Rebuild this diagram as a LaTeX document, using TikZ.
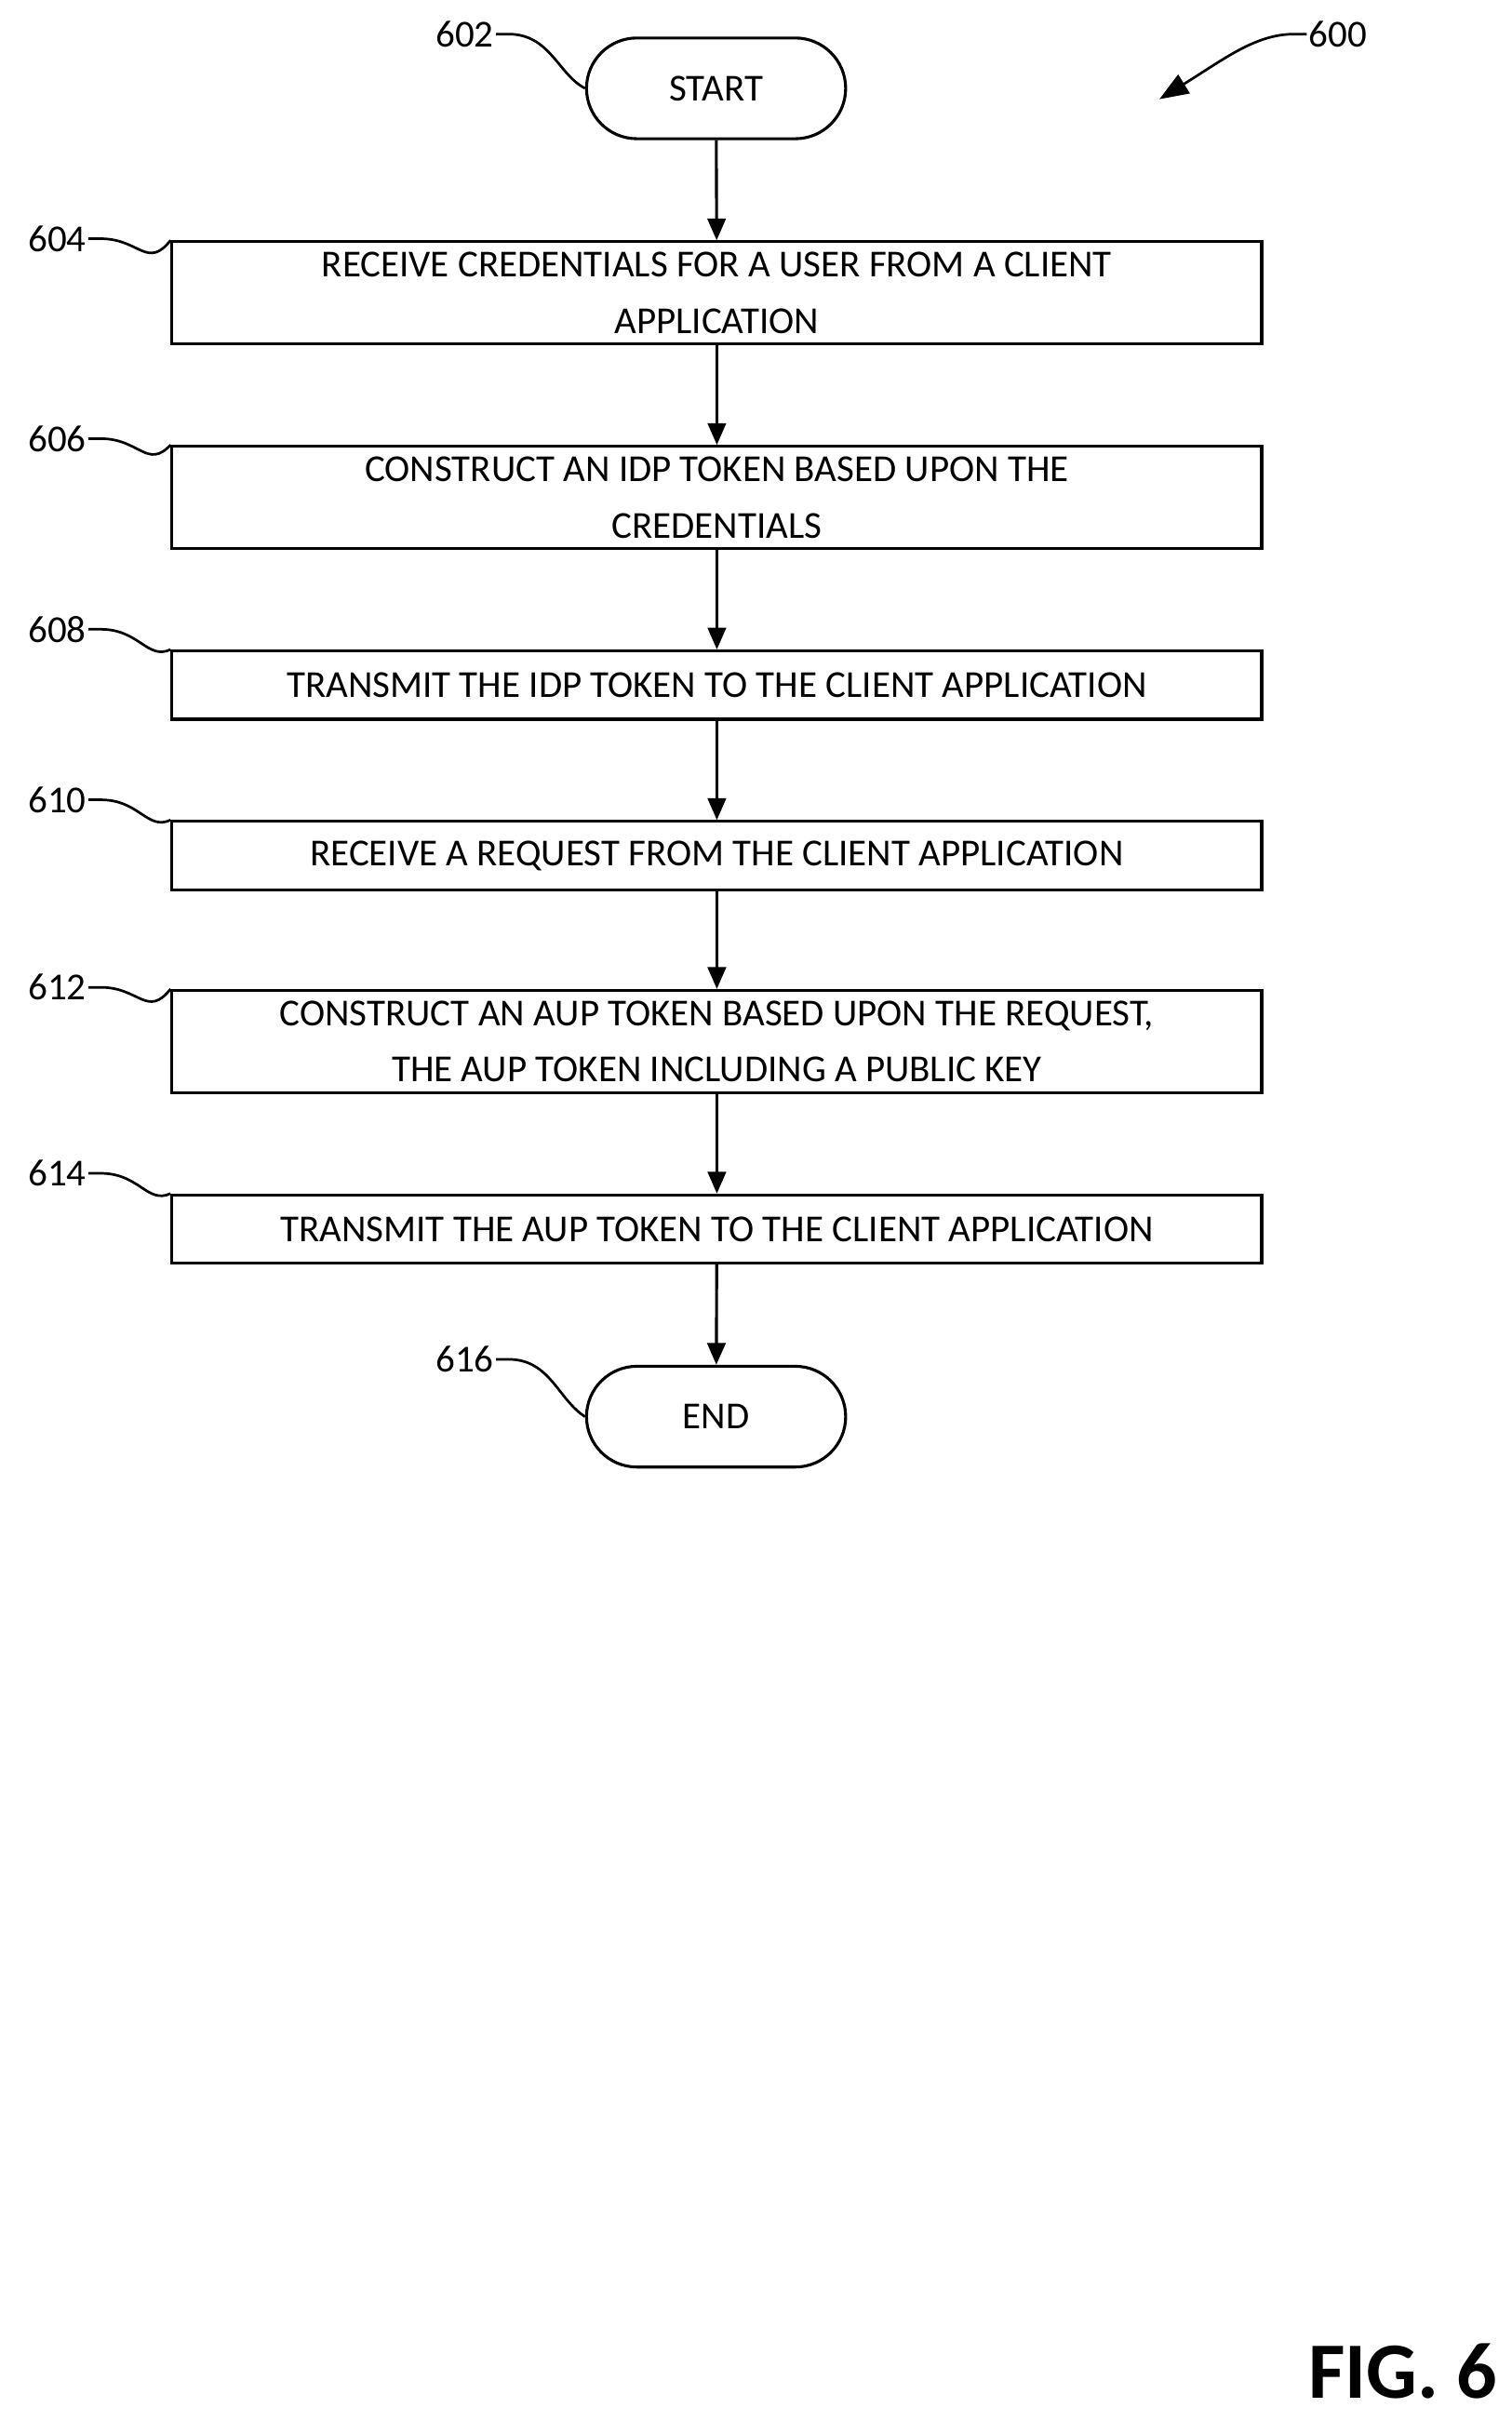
\documentclass[tikz,border=0pt]{standalone}
\usepackage{fontspec}
\setmainfont{Carlito}
\usetikzlibrary{shapes.misc,arrows.meta}
\begin{document}
\begin{tikzpicture}[x=0.03cm,y=-0.03cm,
  box/.style={draw,line width=1.6pt,minimum width=21.09cm,minimum height=#1,align=center,inner sep=0pt,font=\fontsize{21}{31}\selectfont},
  term/.style={draw,line width=1.6pt,rounded rectangle,minimum width=5.25cm,minimum height=1.95cm,font=\fontsize{21}{25}\selectfont},
  flow/.style={line width=1.6pt,-{Triangle[length=12pt,width=10pt]}},
  lead/.style={line width=1.4pt},
  lab/.style={font=\fontsize{21}{25}\selectfont,inner sep=1pt}]
\useasboundingbox (0,0) rectangle (975,1562);
\node[term] (s) at (462,57) {START};
\node[box=1.98cm] (b604) at (462.5,189) {RECEIVE CREDENTIALS FOR A USER FROM A CLIENT\\APPLICATION};
\node[box=1.98cm] (b606) at (462.5,321) {CONSTRUCT AN IDP TOKEN BASED UPON THE\\CREDENTIALS};
\node[box=1.32cm] (b608) at (462.5,442) {TRANSMIT THE IDP TOKEN TO THE CLIENT APPLICATION};
\node[box=1.32cm] (b610) at (462.5,552) {RECEIVE A REQUEST FROM THE CLIENT APPLICATION};
\node[box=1.98cm] (b612) at (462.5,672) {CONSTRUCT AN AUP TOKEN BASED UPON THE REQUEST,\\THE AUP TOKEN INCLUDING A PUBLIC KEY};
\node[box=1.32cm] (b614) at (462.5,793) {TRANSMIT THE AUP TOKEN TO THE CLIENT APPLICATION};
\node[term] (e) at (462,914) {END};
\draw[flow] (s) -- (b604);
\draw[flow] (b604) -- (b606);
\draw[flow] (b606) -- (b608);
\draw[flow] (b608) -- (b610);
\draw[flow] (b610) -- (b612);
\draw[flow] (b612) -- (b614);
\draw[flow] (b614) -- (e);
% labels
\node[lab,anchor=east] (l602) at (320,22) {602};
\draw[lead] (l602.east) -- ++(8,0) .. controls (355,22) and (360,48) .. (s.west);
\node[lab,anchor=east] (l616) at (320,877) {616};
\draw[lead] (l616.east) -- ++(8,0) .. controls (355,877) and (360,903) .. (e.west);
\foreach \n/\y/\b in {604/154/b604,606/283/b606,608/406/b608,610/516/b610,612/637/b612,614/757/b614}{
  \node[lab,anchor=east] (l\n) at (57,\y) {\n};
  \draw[lead] (l\n.east) -- ++(8,0) .. controls (90,\y) and (95,\y+20) .. (\b.north west);
}
\node[lab,anchor=west] (l600) at (843,22) {600};
\coordinate (a600) at (748,64);
\draw[lead,-{Triangle[length=16pt,width=12pt]}] (l600.west) -- ++(-8,0) .. controls (810,22) and (790,38) .. (a600);
\node[font=\bfseries\fontsize{44}{50}\selectfont,anchor=east] (fig) at (970,1530) {FIG. 6};
\end{tikzpicture}
\end{document}
